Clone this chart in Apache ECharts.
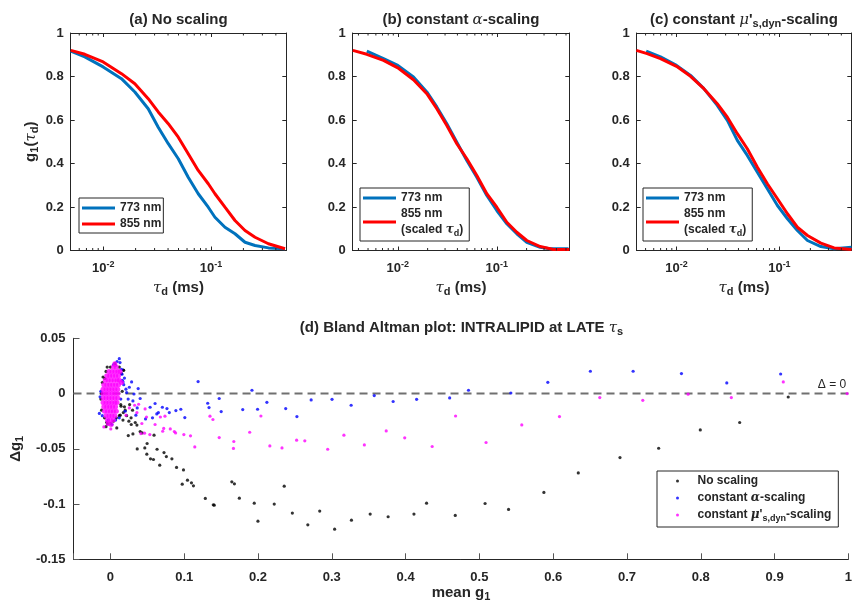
<!DOCTYPE html>
<html><head><meta charset="utf-8">
<script src="https://cdn.jsdelivr.net/npm/echarts@6/dist/echarts.min.js"></script>
<style>html,body{margin:0;padding:0;background:#fff}#c{width:855px;height:608px}</style>
</head><body><div id="c"></div>
<script>
// ---------- DATA ----------
// Panel (a): no scaling
const tauA   = [0.00501,0.00676,0.01,0.01479,0.01968,0.02618,0.03243,0.04018,0.04977,0.06152,0.07621,0.09441,0.1089,0.1349,0.1671,0.2070,0.2564,0.3412,0.4864];
const g773A  = [0.917,0.890,0.844,0.790,0.729,0.652,0.567,0.491,0.422,0.337,0.261,0.199,0.153,0.107,0.077,0.038,0.023,0.012,0.008];
const g855A  = [0.920,0.902,0.867,0.813,0.767,0.698,0.637,0.583,0.521,0.445,0.368,0.307,0.261,0.199,0.138,0.092,0.061,0.031,0.008];
// Panel (b): constant alpha scaling
const tauB773 = [0.00486,0.00716,0.01,0.01439,0.01963,0.02477,0.03126,0.03945,0.04977,0.06281,0.07925,0.1,0.1262,0.1592,0.2009,0.2742,0.3459,0.5297];
const g773B   = [0.917,0.882,0.851,0.798,0.729,0.660,0.583,0.498,0.414,0.337,0.253,0.184,0.123,0.077,0.038,0.015,0.008,0.008];
const tauB855 = [0.00351,0.00486,0.00716,0.01,0.01439,0.01963,0.02477,0.03126,0.03945,0.04977,0.06281,0.07925,0.1,0.1262,0.1592,0.2009,0.2742,0.3733,0.54];
const g855B   = [0.920,0.902,0.874,0.840,0.785,0.721,0.652,0.575,0.491,0.422,0.345,0.261,0.199,0.130,0.084,0.046,0.018,0.005,0.005];
// Panel (c): constant mu's,dyn scaling
const tauC773 = [0.00507,0.00698,0.01,0.01368,0.01845,0.02489,0.03119,0.039,0.04875,0.0611,0.07638,0.09572,0.1197,0.1496,0.1875,0.2529,0.3404,0.5023];
const g773C   = [0.917,0.890,0.851,0.805,0.744,0.667,0.598,0.506,0.437,0.360,0.284,0.207,0.146,0.092,0.046,0.018,0.008,0.015];
const tauC855 = [0.00407,0.00518,0.00698,0.01,0.01368,0.01845,0.02489,0.03119,0.039,0.04875,0.0611,0.07638,0.09572,0.1197,0.1496,0.1875,0.2529,0.3404,0.5023];
const g855C   = [0.920,0.905,0.882,0.847,0.801,0.744,0.675,0.613,0.537,0.468,0.383,0.307,0.238,0.169,0.107,0.069,0.034,0.012,0.005];
// log-axis minor tick values
const minorTickVals = [0.004,0.005,0.006,0.007,0.008,0.009,0.02,0.03,0.04,0.05,0.06,0.07,0.08,0.09,0.2,0.3,0.4,0.5];
// Panel (d): Bland-Altman points [mean g1, delta g1]
const noScalingCluster = [[-0.012,0.0],[-0.013,-0.005],[-0.011,0.01],[-0.012,-0.015],[-0.008,-0.022],[-0.005,-0.026],[0.0,-0.027],[0.004,-0.025],[0.008,-0.022],[0.012,-0.02],[0.014,-0.01],[0.016,0.002],[0.015,0.018],[0.012,0.024],[0.006,0.027],[0.0,0.024],[-0.006,0.02],[-0.01,0.015],[0.018,0.021],[0.02,-0.015],[0.022,-0.02],[0.025,-0.025],[0.028,-0.022],[0.017,-0.024],[0.03,-0.015],[0.026,-0.01],[0.019,-0.012],[-0.006,-0.03],[0.0086,-0.0311],[-0.004,-0.0275],[0.0282,-0.028],[0.0336,-0.0262],[0.0359,-0.0285],[0.0175,-0.0172],[0.0134,-0.0196],[0.0144,-0.0115],[0.0175,0.0213],[0.0067,0.0256],[-0.0044,0.024],[-0.0075,0.0136]];
const noScalingSpread = [[0.0242,-0.038],[0.0305,-0.0365],[0.0363,-0.0501],[0.0403,-0.0344],[0.043,-0.0356],[0.0466,-0.0492],[0.0497,-0.0452],[0.0493,-0.0549],[0.0543,-0.0591],[0.0583,-0.0597],[0.0591,-0.0377],[0.0632,-0.0504],[0.0668,-0.0648],[0.0726,-0.0534],[0.0758,-0.057],[0.0833,-0.0591],[0.0896,-0.0669],[0.099,-0.0691],[0.0973,-0.082],[0.1044,-0.0784],[0.1098,-0.0808],[0.1125,-0.0835],[0.1286,-0.0949],[0.1394,-0.1007],[0.1407,-0.101],[0.1645,-0.0799],[0.168,-0.0817],[0.1747,-0.0947],[0.1949,-0.0992],[0.1999,-0.1155],[0.222,-0.1],[0.2355,-0.0838],[0.2465,-0.1082],[0.2675,-0.1188],[0.2836,-0.1064],[0.3038,-0.1227],[0.3266,-0.1146],[0.352,-0.1091],[0.3763,-0.1115],[0.4113,-0.1091],[0.4284,-0.0992],[0.4673,-0.1103],[0.5077,-0.0995],[0.5395,-0.1049],[0.5874,-0.0895],[0.634,-0.0718],[0.6905,-0.0579],[0.7429,-0.0495],[0.7993,-0.0329],[0.8527,-0.0262],[0.9185,-0.0031]];
const alphaCluster = [[-0.014,-0.003],[-0.015,-0.018],[-0.013,0.002],[-0.011,-0.02],[-0.003,-0.024],[0.002,-0.028],[0.007,-0.024],[0.013,0.028],[0.009,0.029],[0.004,0.026],[0.015,0.022],[0.016,0.012],[0.018,0.008],[0.014,-0.005],[0.019,0.014],[0.021,0.004],[0.024,-0.005],[0.02,-0.016],[0.012,-0.022],[0.012,0.0316],[0.0171,0.0105],[0.0157,0.0175],[0.022,0.0009]];
const alphaSpread = [[0.0256,0.0057],[0.0287,0.0105],[0.0319,-0.0004],[0.0305,-0.0067],[0.0345,-0.0196],[0.0363,-0.013],[0.0376,0.0045],[0.0403,-0.0045],[0.0476,-0.023],[0.0538,-0.0124],[0.057,-0.022],[0.0605,-0.009],[0.0628,-0.0184],[0.065,-0.0172],[0.0704,-0.0124],[0.0766,-0.0136],[0.0798,-0.0172],[0.0887,-0.0154],[0.0954,-0.0142],[0.1008,-0.0217],[0.1188,0.0108],[0.1318,-0.0088],[0.1336,-0.0127],[0.1474,-0.0045],[0.1501,-0.0163],[0.1793,-0.0145],[0.1918,0.003],[0.1994,-0.0142],[0.212,-0.0079],[0.2375,-0.0136],[0.2527,-0.0208],[0.272,-0.0058],[0.3003,-0.0052],[0.3262,-0.0106],[0.3575,-0.0018],[0.3831,-0.0072],[0.4149,-0.0052],[0.4597,-0.004],[0.4852,0.003],[0.5426,0.0005],[0.5927,0.0102],[0.6504,0.0202],[0.7083,0.0202],[0.7738,0.0181],[0.8352,0.0096],[0.9082,0.0177]];
const muCluster = [[0.006,0.027],[0.004,0.024],[0.008,0.024],[-0.002,0.02],[0.002,0.02],[0.006,0.02],[0.01,0.02],[-0.005,0.016],[-0.001,0.016],[0.003,0.016],[0.007,0.016],[0.011,0.016],[-0.007,0.012],[-0.003,0.012],[0.001,0.012],[0.005,0.012],[0.009,0.012],[0.012,0.012],[-0.009,0.008],[-0.005,0.008],[-0.001,0.008],[0.003,0.008],[0.007,0.008],[0.011,0.008],[-0.01,0.004],[-0.006,0.004],[-0.002,0.004],[0.002,0.004],[0.006,0.004],[0.01,0.004],[-0.01,0.0],[-0.006,0.0],[-0.002,0.0],[0.002,0.0],[0.006,0.0],[0.01,0.0],[-0.01,-0.004],[-0.006,-0.004],[-0.002,-0.004],[0.002,-0.004],[0.006,-0.004],[0.01,-0.004],[-0.01,-0.008],[-0.006,-0.008],[-0.002,-0.008],[0.002,-0.008],[0.006,-0.008],[0.009,-0.008],[-0.009,-0.012],[-0.005,-0.012],[-0.001,-0.012],[0.003,-0.012],[0.007,-0.012],[-0.008,-0.016],[-0.004,-0.016],[0.0,-0.016],[0.004,-0.016],[0.008,-0.016],[-0.006,-0.02],[-0.002,-0.02],[0.002,-0.02],[0.006,-0.02],[-0.004,-0.024],[0.0,-0.024],[0.004,-0.024],[-0.003,-0.027],[0.001,-0.028],[0.013,0.02],[0.015,0.01]];
const muOutliers = [[-0.0089,-0.0302],[0.0005,-0.032]];
const muSpread = [[0.0211,-0.0196],[0.0256,-0.013],[0.0328,-0.0106],[0.0359,-0.0172],[0.0382,-0.0097],[0.0413,-0.0362],[0.0426,-0.0271],[0.0462,-0.0359],[0.047,-0.0139],[0.0489,-0.0212],[0.0534,-0.0371],[0.0605,-0.028],[0.0677,-0.0212],[0.0708,-0.0341],[0.0722,-0.0316],[0.0739,-0.0205],[0.0811,-0.032],[0.0866,-0.0344],[0.0883,-0.0356],[0.0995,-0.0371],[0.1085,-0.0383],[0.1143,-0.0483],[0.1349,-0.0205],[0.1389,-0.0235],[0.1474,-0.0398],[0.1667,-0.0497],[0.1672,-0.0434],[0.1887,-0.035],[0.2039,-0.0203],[0.216,-0.0474],[0.2325,-0.0492],[0.2523,-0.0422],[0.2634,-0.0428],[0.2944,-0.0504],[0.3164,-0.0377],[0.3441,-0.0465],[0.3737,-0.0338],[0.3988,-0.0401],[0.436,-0.0479],[0.4677,-0.0203],[0.509,-0.0443],[0.5574,-0.0284],[0.6085,-0.0208],[0.6631,-0.0036],[0.7214,-0.0061],[0.7828,-0.0006],[0.8414,-0.0036],[0.9118,0.0105],[0.9983,0.0]];
const zeroLine = [[-0.05,0],[1,0]];

// ---------- STYLE ----------
const FONT = "'Liberation Sans', Arial, Helvetica, sans-serif";
const GREEK = "'DejaVu Serif', 'Liberation Serif', serif";
const AX = '#262626';
const BLUE = '#0072BD', RED = '#FF0000';
function rich(fs, lh) {
  const L = lh ? {lineHeight: lh} : {};
  return {
    b:   Object.assign({fontFamily: FONT, fontWeight: 'bold', fontSize: fs, color: AX}, L),
    it:  Object.assign({fontFamily: GREEK, fontStyle: 'italic', fontSize: fs, color: AX}, L),
    sub: {fontFamily: FONT, fontWeight: 'bold', fontSize: Math.round(fs*0.72), color: AX, padding: [Math.round(fs*0.55),0,0,0]},
    sup: {fontFamily: FONT, fontWeight: 'bold', fontSize: Math.round(fs*0.72), color: AX, padding: [0,0,Math.round(fs*0.55),0]}
  };
}
const pair = (xs, ys) => xs.map((x, i) => [x, ys[i]]);

const ranges = [[0.005, 0.5], [0.0035, 0.54], [0.0041, 0.5]];
const grids = [
  {left: 70.7, top: 33, width: 215.6, height: 217.5},
  {left: 352.7, top: 33, width: 216.6, height: 217.5},
  {left: 636.7, top: 33, width: 214.6, height: 217.5},
  {left: 71, top: 338.3, width: 781, height: 221}
];
const xAxes = [], yAxes = [];
ranges.forEach((r, i) => {
  xAxes.push({
    type: 'log', logBase: 10, gridIndex: i, min: r[0], max: r[1], position: 'bottom',
    axisLine: {onZero: false, lineStyle: {color: AX, width: 1}},
    axisTick: {inside: true, length: 4, lineStyle: {color: AX}},
    splitLine: {show: false},
    axisLabel: {
      margin: 10, color: AX, rich: rich(13),
      formatter: v => { const e = Math.round(Math.log10(v)); return Math.abs(Math.log10(v) - e) < 1e-6 ? '{b|10}{sup|' + e + '}' : ''; }
    },
    name: '{it|τ}{sub|d}{b| (ms)}', nameLocation: 'middle', nameGap: 28,
    nameTextStyle: {rich: rich(15)}
  });
  xAxes.push({
    type: 'log', logBase: 10, gridIndex: i, min: r[0], max: r[1], position: 'top',
    axisLine: {onZero: false, lineStyle: {color: AX, width: 1}},
    axisTick: {inside: true, length: 4, lineStyle: {color: AX}},
    splitLine: {show: false}, axisLabel: {show: false}
  });
  yAxes.push({
    type: 'value', gridIndex: i, min: 0, max: 1, interval: 0.2, position: 'left',
    axisLine: {show: true, onZero: false, lineStyle: {color: AX, width: 1}},
    axisTick: {show: true, inside: true, length: 4, lineStyle: {color: AX}},
    splitLine: {show: false},
    axisLabel: {margin: 7, color: AX, fontFamily: FONT, fontWeight: 'bold', fontSize: 13},
    name: i === 0 ? '{b|g}{sub|1}{b|(}{it|τ}{sub|d}{b|)}' : '', nameLocation: 'middle', nameGap: 30,
    nameTextStyle: {rich: rich(15)}
  });
  yAxes.push({
    type: 'value', gridIndex: i, min: 0, max: 1, interval: 0.2, position: 'right',
    axisLine: {show: true, onZero: false, lineStyle: {color: AX, width: 1}},
    axisTick: {show: true, inside: true, length: 4, lineStyle: {color: AX}},
    splitLine: {show: false}, axisLabel: {show: false}
  });
});
xAxes.push({
  type: 'value', gridIndex: 3, min: -0.05, max: 1, splitNumber: 10, minInterval: 0.1, maxInterval: 0.1,
  axisLine: {onZero: false, lineStyle: {color: AX, width: 1}},
  axisTick: {inside: true, length: 6, lineStyle: {color: '#555'}},
  splitLine: {show: false},
  axisLabel: {margin: 12, color: AX, fontFamily: FONT, fontWeight: 'bold', fontSize: 13,
    formatter: v => (v < -0.01 ? '' : String(Math.round(v * 10) / 10))},
  name: '{b|mean g}{sub|1}', nameLocation: 'middle', nameGap: 23, nameTextStyle: {rich: rich(15)}
});
yAxes.push({
  type: 'value', gridIndex: 3, min: -0.15, max: 0.05, interval: 0.05,
  axisLine: {show: true, onZero: false, lineStyle: {color: AX, width: 1}},
  axisTick: {show: true, inside: true, length: 6, lineStyle: {color: '#555'}},
  splitLine: {show: false},
  axisLabel: {margin: 8, color: AX, fontFamily: FONT, fontWeight: 'bold', fontSize: 13},
  name: '{b|Δg}{sub|1}', nameLocation: 'middle', nameGap: 33, nameTextStyle: {rich: rich(15)}
});

function minorTickRender(params, api) {
  const x = api.coord([api.value(0), 0.5])[0];
  const cs = params.coordSys;
  return {type: 'group', children: [
    {type: 'line', shape: {x1: x, y1: cs.y + cs.height, x2: x, y2: cs.y + cs.height - 2.5}, style: {stroke: AX, lineWidth: 1}},
    {type: 'line', shape: {x1: x, y1: cs.y, x2: x, y2: cs.y + 2.5}, style: {stroke: AX, lineWidth: 1}}
  ]};
}

const lineS = (name, data, color, i) => ({
  type: 'line', name, data, xAxisIndex: 2 * i, yAxisIndex: 2 * i, showSymbol: false, symbol: 'none',
  lineStyle: {color, width: 3}, itemStyle: {color}, silent: true, z: 3
});
const series = [
  lineS('773 nm', pair(tauA, g773A), BLUE, 0),
  lineS('855 nm', pair(tauA, g855A), RED, 0),
  lineS('773 nm', pair(tauB773, g773B), BLUE, 1),
  lineS('855 nm (scaled)', pair(tauB855, g855B), RED, 1),
  lineS('773 nm', pair(tauC773, g773C), BLUE, 2),
  lineS('855 nm (scaled)', pair(tauC855, g855C), RED, 2)
];
ranges.forEach((r, i) => {
  series.push({
    type: 'custom', xAxisIndex: 2 * i, yAxisIndex: 2 * i, silent: true, clip: false,
    renderItem: minorTickRender, encode: {x: 0, y: 1},
    data: minorTickVals.filter(v => v > r[0] && v < r[1]).map(v => [v, 0.5]), z: 5
  });
});
series.push({
  type: 'line', data: zeroLine, xAxisIndex: 6, yAxisIndex: 6, symbol: 'none', silent: true,
  lineStyle: {color: '#707070', width: 2, type: [8, 5]}, z: 1
});
const scat = (name, cluster, spread, color, csize) => ({
  type: 'scatter', name, data: cluster.concat(spread), xAxisIndex: 6, yAxisIndex: 6, silent: true,
  symbolSize: (v, p) => (p.dataIndex < cluster.length ? csize : 3.2),
  itemStyle: {color}
});
series.push(scat('No scaling', noScalingCluster, noScalingSpread, '#000000', 3.2));
series.push(scat('alpha', alphaCluster, alphaSpread, '#0000FF', 3.2));
series.push(scat('mu', muCluster, muOutliers.concat(muSpread), '#FF00FF', 5));

const legendBase = {
  orient: 'vertical', selectedMode: false, borderColor: AX, borderWidth: 1,
  backgroundColor: '#fff', itemWidth: 33, itemHeight: 3, icon: 'rect', itemGap: 4,
  textStyle: {fontFamily: FONT, fontWeight: 'bold', fontSize: 12, color: AX, rich: rich(12, 16)},
  formatter: n => n === '855 nm (scaled)' ? '{b|855 nm}\n{b|(scaled }{it|τ}{sub|d}{b|)}' : '{b|' + n + '}'
};
const legends = [
  Object.assign({}, legendBase, {left: 79, top: 198, padding: [4, 2, 3, 3], data: ['773 nm', '855 nm']}),
  Object.assign({}, legendBase, {left: 360, top: 188, padding: [4, 6, 3, 3], data: ['773 nm', '855 nm (scaled)']}),
  Object.assign({}, legendBase, {left: 643, top: 188, padding: [4, 6, 3, 3], data: ['773 nm', '855 nm (scaled)']}),
  {
    orient: 'vertical', selectedMode: false, borderColor: AX, borderWidth: 1, backgroundColor: '#fff',
    left: 657, top: 471, padding: [4, 7, 4, 19], itemWidth: 30, itemHeight: 3, icon: 'circle', itemGap: 5,
    data: ['No scaling', 'alpha', 'mu'],
    textStyle: {fontFamily: FONT, fontWeight: 'bold', fontSize: 12, color: AX, rich: rich(12, 16)},
    formatter: n => n === 'alpha' ? '{b|constant }{it|α}{b|-scaling}' :
      n === 'mu' ? "{b|constant }{it|μ}{b|'}{sub|s,dyn}{b|-scaling}" : '{b|' + n + '}'
  }
];

const titleText = (x, y, t) => ({type: 'text', x, y, style: {text: t, rich: rich(15), align: 'center', verticalAlign: 'middle', fill: AX}});
const graphic = [
  titleText(178.5, 20, '{b|(a) No scaling}'),
  titleText(461, 20, '{b|(b) constant }{it|α}{b|-scaling}'),
  titleText(744, 20, "{b|(c) constant }{it|μ}{b|'}{sub|s,dyn}{b|-scaling}"),
  titleText(461.5, 328, '{b|(d) Bland Altman plot: INTRALIPID at LATE }{it|τ}{sub|s}'),
  {type: 'text', x: 832, y: 385, style: {text: 'Δ = 0', fontFamily: FONT, fontSize: 12, fill: AX, align: 'center', verticalAlign: 'middle'}}
];

const chart = echarts.init(document.getElementById('c'), null, {renderer: 'canvas'});
chart.setOption({
  animation: false, backgroundColor: '#fff',
  grid: grids, xAxis: xAxes, yAxis: yAxes, series, legend: legends, graphic
});
</script></body></html>
